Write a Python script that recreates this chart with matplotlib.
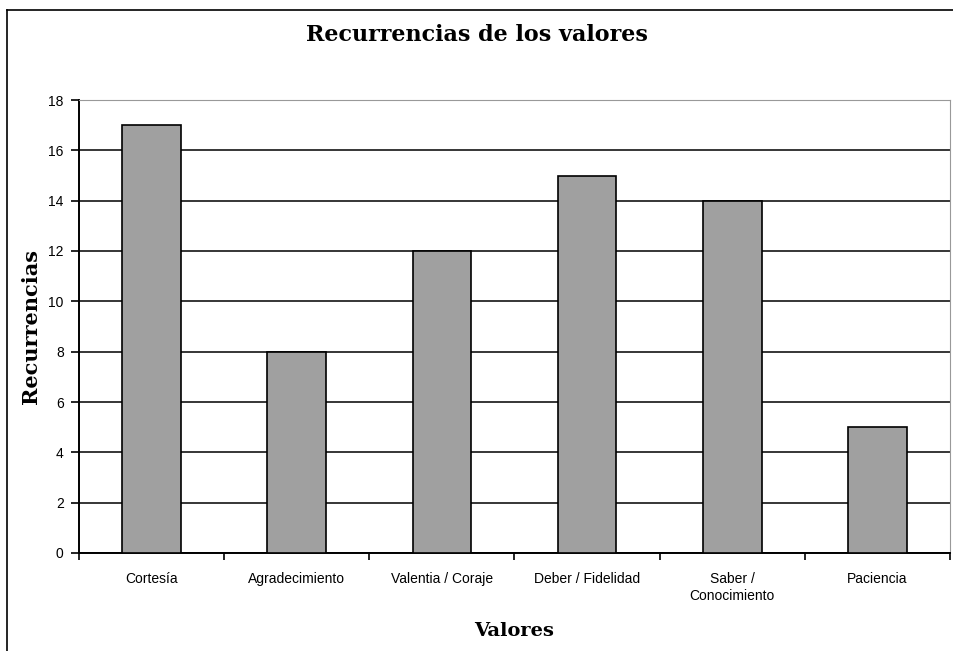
import matplotlib
matplotlib.use('Agg')
from matplotlib import pyplot
from matplotlib.lines import Line2D

Categories = ['Cortesía', 'Agradecimiento', 'Valentia / Coraje',
              'Deber / Fidelidad', 'Saber /\nConocimiento', 'Paciencia']
Values = [17, 8, 12, 15, 14, 5]
YTicks = [0, 2, 4, 6, 8, 10, 12, 14, 16, 18]


def Run():
  W, H = 954., 651.
  fig = pyplot.figure(figsize=(9.54, 6.51), dpi=100)
  # Outer frame of the chart (only left and top edges are visible).
  fig.lines.append(Line2D([7 / W, 7 / W], [0, 1 - 10 / H], transform=fig.transFigure,
                          color='black', linewidth=1.2))
  fig.lines.append(Line2D([7 / W, 1], [1 - 10 / H, 1 - 10 / H], transform=fig.transFigure,
                          color='black', linewidth=1.2))

  ax = fig.add_axes([79 / W, 98 / H, 871 / W, 453 / H])
  x = list(range(len(Categories)))
  ax.bar(x, Values, width=0.405, color='#a0a0a0', edgecolor='black', linewidth=1.2, zorder=3)

  ax.set_xlim(-0.5, len(Categories) - 0.5)
  ax.set_ylim(0, 18)
  ax.set_yticks(YTicks)
  ax.set_yticklabels([str(v) for v in YTicks], fontsize=10, family='Liberation Sans')
  ax.yaxis.grid(True, color='black', linewidth=1.1, zorder=0)
  ax.set_axisbelow(True)

  # Category labels centred, tick marks at category boundaries.
  ax.set_xticks(x)
  ax.set_xticklabels(Categories, fontsize=10, family='Liberation Sans', va='top')
  ax.tick_params(axis='x', which='major', length=0, pad=14)
  ax.set_xticks([i + 0.5 for i in range(-1, len(Categories))], minor=True)
  ax.tick_params(axis='x', which='minor', length=5, width=1.2, direction='out')
  ax.tick_params(axis='y', length=6, width=1.2, direction='out', pad=5)

  ax.spines['left'].set_linewidth(1.4)
  ax.spines['bottom'].set_linewidth(1.4)
  ax.spines['top'].set_color('#999999')
  ax.spines['right'].set_color('#999999')

  ax.set_xlabel('Valores', fontsize=14, family='DejaVu Serif', fontweight='bold', labelpad=14)
  ax.set_ylabel('Recurrencias', fontsize=15, family='DejaVu Serif', fontweight='bold', labelpad=5)
  fig.text(477 / W, 1 - 35 / H, 'Recurrencias de los valores', ha='center', va='center',
           fontsize=16, family='DejaVu Serif', fontweight='bold')

  fig.savefig('out.png', dpi=100)


if __name__ == '__main__':
  Run()
